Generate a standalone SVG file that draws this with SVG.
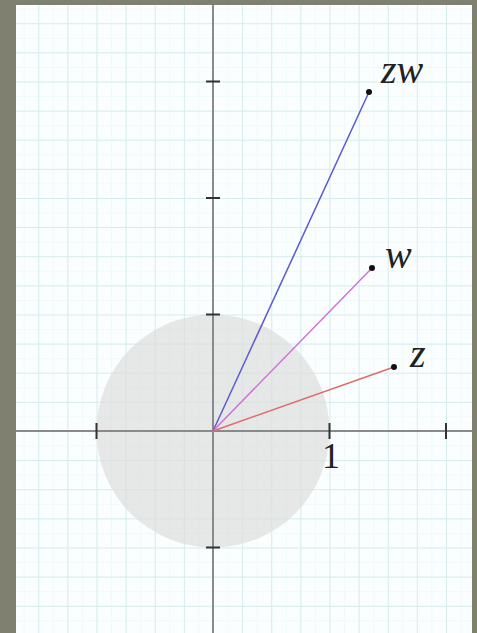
<svg xmlns="http://www.w3.org/2000/svg" width="477" height="633" viewBox="0 0 477 633">
  <defs>
    <pattern id="minor" x="213" y="431" width="14.5625" height="14.5625" patternUnits="userSpaceOnUse">
      <path d="M0 0V14.5625M0 0H14.5625" fill="none" stroke="#eef8f8" stroke-width="1.5"/>
    </pattern>
    <pattern id="major" x="213" y="431" width="29.125" height="29.125" patternUnits="userSpaceOnUse">
      <path d="M0 0V29.125M0 0H29.125" fill="none" stroke="#d6eded" stroke-width="2"/>
    </pattern>
  </defs>
  <style>
    .axis { stroke: #8a8a8a; stroke-width: 2; fill: none; }
    .tick { stroke: #333; stroke-width: 2; }
    .lbl { font-family: "Liberation Serif", "DejaVu Serif", serif; font-style: italic; font-size: 40px; fill: #222; }
    .num { font-family: "Liberation Serif", "DejaVu Serif", serif; font-size: 36px; fill: #222; }
    .dot { fill: #111; }
  </style>
  <rect x="0" y="0" width="477" height="633" fill="#7f806f"/>
  <rect x="16" y="5" width="456" height="628" fill="#fbfefe"/>
  <rect x="16" y="5" width="456" height="628" fill="url(#minor)"/>
  <rect x="16" y="5" width="456" height="628" fill="url(#major)"/>
  <circle id="unit-circle" cx="213" cy="431" r="116.5" fill="#dddddd" fill-opacity="0.7"/>
  <g id="axes">
    <line class="axis" x1="16" y1="431" x2="472" y2="431"/>
    <line class="axis" x1="213" y1="5" x2="213" y2="633"/>
    <line class="tick" x1="96.5" y1="423" x2="96.5" y2="439"/>
    <line class="tick" x1="329.5" y1="423" x2="329.5" y2="439"/>
    <line class="tick" x1="446" y1="423" x2="446" y2="439"/>
    <line class="tick" x1="206" y1="81.5" x2="220" y2="81.5"/>
    <line class="tick" x1="206" y1="198" x2="220" y2="198"/>
    <line class="tick" x1="206" y1="314.5" x2="220" y2="314.5"/>
    <line class="tick" x1="206" y1="547.5" x2="220" y2="547.5"/>
    <text class="num" x="331" y="468" text-anchor="middle">1</text>
  </g>
  <g id="connectors" fill="none" stroke-width="1.5">
    <line x1="213" y1="431" x2="369" y2="92" stroke="#5a5ad0"/>
    <line x1="213" y1="431" x2="372" y2="268" stroke="#d070d8"/>
    <line x1="213" y1="431" x2="394" y2="367" stroke="#e06a6a"/>
  </g>
  <g id="zw">
    <circle class="dot" cx="369" cy="92" r="3"/>
    <text class="lbl" x="381" y="83">zw</text>
  </g>
  <g id="w">
    <circle class="dot" cx="372" cy="268" r="3"/>
    <text class="lbl" x="385" y="268">w</text>
  </g>
  <g id="z">
    <circle class="dot" cx="394" cy="367" r="3"/>
    <text class="lbl" x="410" y="367">z</text>
  </g>
</svg>
